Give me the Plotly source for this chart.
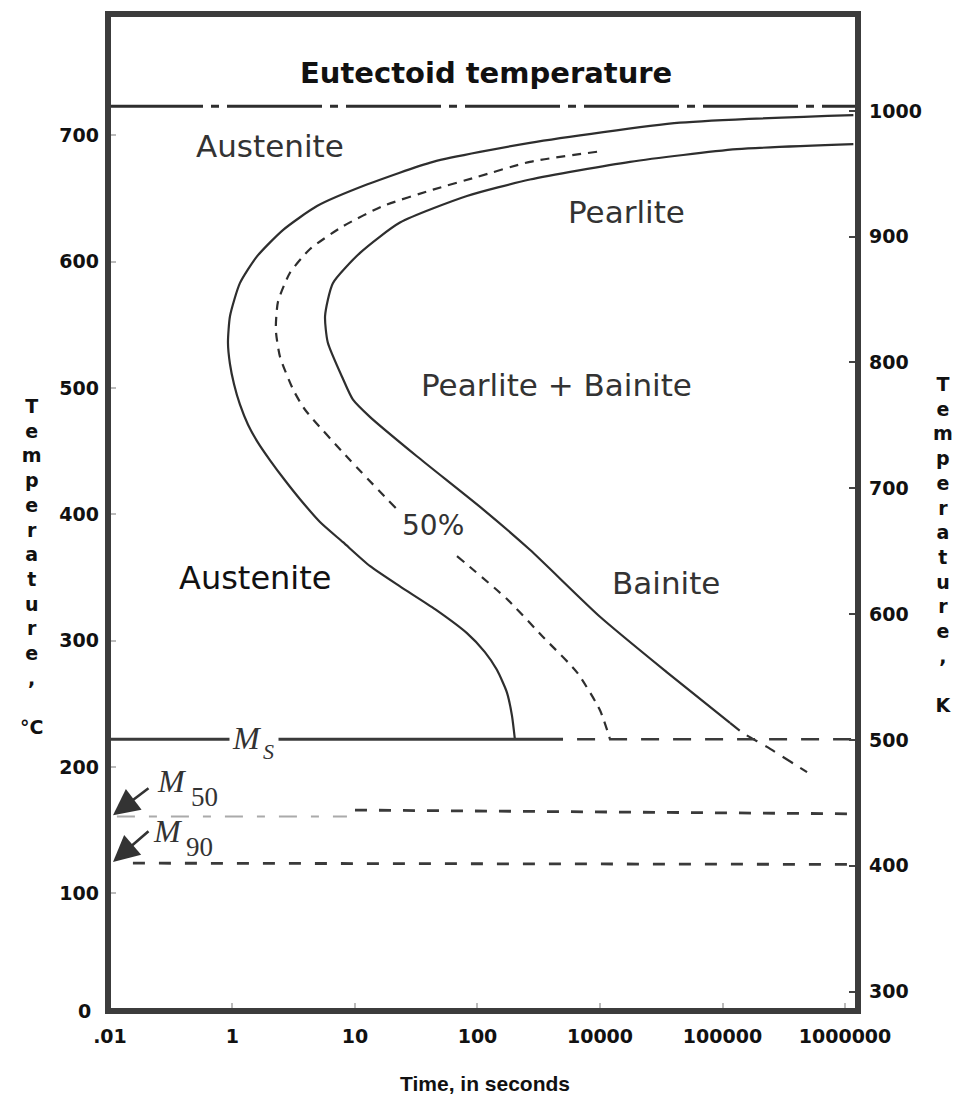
import plotly.graph_objects as go

# ---------------- data ----------------
# axis extents (log10 seconds, deg C, K)
X_LOG_RANGE = [-1.016, 5.106]
Y_C_RANGE = [7, 796]
Y_K_RANGE = [284.5, 1077]
XMIN = 10 ** X_LOG_RANGE[0]
XMAX = 10 ** X_LOG_RANGE[1]

x_tickvals = [0.1, 1, 10, 100, 1000, 10000, 100000]
x_ticktext = [".01", "1", "10", "100", "10000", "100000", "1000000"]
yc_tickvals = [100, 200, 300, 400, 500, 600, 700]
yk_tickvals = [300, 400, 500, 600, 700, 800, 900, 1000]

# transformation start curve (solid, outer)
start_t = [117000, 4500, 268, 43.4, 12.5, 4.9, 2.58, 1.58, 1.15, 0.955, 0.919,
           0.954, 1.03, 1.15, 1.34, 1.61, 2.02, 2.68, 3.56, 5.18, 7.98, 13.3,
           23.3, 45, 82, 115, 144, 174, 191, 202]
start_T = [716, 710, 694, 679, 661, 644, 625, 604, 583, 557, 536,
           519, 503, 487, 471, 457, 443, 427, 412, 394, 378, 359,
           343, 325, 306, 291, 277, 259, 241, 222]

# 50 % transformation curve (dashed), upper and lower parts (gap at label)
half_upper_t = [946, 268, 99, 43.4, 16.9, 7.98, 4.3, 2.94, 2.35, 2.26, 2.44,
                3.12, 3.9, 9.1, 22]
half_upper_T = [687, 679, 667, 657, 644, 628, 610, 591, 568, 546, 525,
                499, 483, 443, 404]
half_lower_t = [68, 174, 343, 649, 1000, 1208]
half_lower_T = [367, 333, 303, 275, 245, 222]

# transformation finish curve (solid, inner) and its dashed extension
finish_t = [117000, 13120, 1758, 268, 82, 23.3, 11, 6.6, 5.7, 6.0, 8.0, 9.6,
            13.3, 32, 111, 268, 1000, 3524, 11510]
finish_T = [693, 689, 679, 665, 652, 631, 607, 583, 557, 536, 507, 491,
            477, 446, 404, 372, 319, 275, 235]
finish_ext_t = [11510, 14700, 23070, 48980]
finish_ext_T = [235, 227, 216, 196]

# horizontal temperatures
eutectoid_T = 723
ms_T = 222
ms_solid_end_t = 499
ms_dash_start_t = 650
m50_left_t = [0.114, 8.6]
m50_left_T = [161, 161]
m50_right_t = [10, XMAX]
m50_right_T = [166, 163]
m90_t = [0.154, XMAX]
m90_T = [124, 123]

LINE = "#2e2e2e"
FRAME = "#3c3c3c"

fig = go.Figure()


def add_line(x, y, width=2.2, dash=None, color=LINE, shape="spline"):
    fig.add_trace(go.Scatter(
        x=x, y=y, mode="lines",
        line=dict(color=color, width=width, dash=dash, shape=shape, smoothing=0.6),
        hoverinfo="skip", showlegend=False))


# eutectoid line
add_line([XMIN, XMAX], [eutectoid_T, eutectoid_T], width=3,
         dash="95px,8px,8px,8px", shape="linear")
# C-curves
add_line(start_t, start_T, width=2.2)
add_line(half_upper_t, half_upper_T, width=2.2, dash="9px,7px")
add_line(half_lower_t, half_lower_T, width=2.2, dash="9px,7px")
add_line(finish_t, finish_T, width=2.2)
add_line(finish_ext_t, finish_ext_T, width=2.2, dash="12px,9px")
# Ms line
add_line([XMIN, ms_solid_end_t], [ms_T, ms_T], width=3, shape="linear", color="#3a3a3a")
add_line([ms_dash_start_t, XMAX], [ms_T, ms_T], width=2.6, dash="18px,14px",
         shape="linear", color="#3a3a3a")
# M50 / M90
add_line(m50_left_t, m50_left_T, width=2, dash="18px,14px,8px,14px",
         shape="linear", color="#aaaaaa")
add_line(m50_right_t, m50_right_T, width=2.8, dash="12px,12px",
         shape="linear", color="#3a3a3a")
add_line(m90_t, m90_T, width=2.8, dash="12px,14px", shape="linear", color="#3a3a3a")

# invisible anchor so the Kelvin axis is drawn
fig.add_trace(go.Scatter(x=[XMIN], y=[yk_tickvals[0]], yaxis="y2", mode="markers",
                         marker=dict(opacity=0), hoverinfo="skip", showlegend=False))

REG = dict(family="DejaVu Sans", size=31, color="#333333")
ann = []


def label(text, xp, yp, font, **kw):
    d = dict(text=text, x=xp, y=yp, xref="paper", yref="paper", showarrow=False,
             font=font, xanchor="center", yanchor="middle")
    d.update(kw)
    ann.append(d)


# plot area: x 108..858, y 14..1011 (px)
def px(x):
    return (x - 108) / 750.0


def py(y):
    return (1011 - y) / 997.0


label("Eutectoid temperature", px(486), py(73),
      dict(family="DejaVu Sans", size=29, color="#111111", weight="bold"))
label("Austenite", px(270), py(146), REG)
label("Pearlite", px(626), py(212), REG)
label("Pearlite + Bainite", px(556), py(385), REG)
label("50%", px(433), py(525), dict(family="DejaVu Sans", size=28, color="#333333"))
label("Austenite", px(255), py(578), dict(family="DejaVu Sans", size=32, color="#111111"))
label("Bainite", px(666), py(583), REG)

MFONT = dict(family="Liberation Serif", size=32, color="#333333", style="italic")
SFONT = dict(family="Liberation Serif", size=27, color="#333333")
# Ms label with white box interrupting the line
label("<i>M</i>", px(229), py(738), MFONT, xanchor="left", bgcolor="white",
      width=44, align="left", borderpad=2)
label("S", px(268), py(751), dict(family="Liberation Serif", size=22, color="#333333",
                                  style="italic"))
label("<i>M</i>", px(172), py(781), MFONT)
label("50", px(204), py(797), SFONT)
label("<i>M</i>", px(168), py(831), MFONT)
label("90", px(199), py(847), SFONT)

# arrows to the M50 / M90 starting points on the left axis
for yT, dy in [(162, -28), (125, -32)]:
    ann.append(dict(x=px(113), y=yT, xref="paper", yref="y", text="", showarrow=True,
                    ax=37, ay=dy, arrowhead=2, arrowsize=2.0, arrowwidth=2.6,
                    arrowcolor="#333333"))

# axis titles (stacked letters)
AXF = dict(family="DejaVu Sans", size=19, color="#111111", weight="bold")
letters = ["T", "e", "m", "p", "e", "r", "a", "t", "u", "r", "e", ","]
label("<br>".join(letters + ["", "°C"]), px(31), py(566), AXF)
label("<br>".join(letters + ["", "K"]), px(943), py(544), AXF)
label("Time, in seconds", px(485), py(1083),
      dict(family="Liberation Sans", size=21, color="#111111", weight="bold"))
# bottom-left zero label
label("0", px(93), py(1011), dict(family="DejaVu Sans", size=19, color="#111111",
                                  weight="bold"), xanchor="right")

TICKF = dict(family="DejaVu Sans", size=19, color="#111111", weight="bold")

fig.update_layout(
    width=956, height=1104,
    margin=dict(l=108, r=98, t=14, b=93),
    paper_bgcolor="white", plot_bgcolor="white",
    showlegend=False,
    annotations=ann,
    xaxis=dict(type="log", range=X_LOG_RANGE, tickvals=x_tickvals, ticktext=x_ticktext,
               ticks="inside", ticklen=8, tickwidth=2, tickcolor="#bbbbbb",
               tickfont=TICKF, showgrid=False, zeroline=False, showline=False,
               ticklabelstandoff=12),
    yaxis=dict(range=Y_C_RANGE, tickvals=yc_tickvals, ticks="inside", ticklen=8,
               tickwidth=2, tickcolor="#bbbbbb", tickfont=TICKF, showgrid=False,
               zeroline=False, showline=False, ticklabelstandoff=8),
    yaxis2=dict(range=Y_K_RANGE, tickvals=yk_tickvals, overlaying="y", side="right",
                ticks="inside", ticklen=9, tickwidth=2, tickcolor="#444444",
                tickfont=TICKF, showgrid=False, zeroline=False, showline=False,
                ticklabelstandoff=10),
    shapes=[dict(type="rect", xref="paper", yref="paper", x0=0, x1=1, y0=0, y1=1,
                 line=dict(color=FRAME, width=6), layer="above")],
)

fig.write_html("out.html", config={"displayModeBar": False},
               post_script="document.body.style.margin='0';")
